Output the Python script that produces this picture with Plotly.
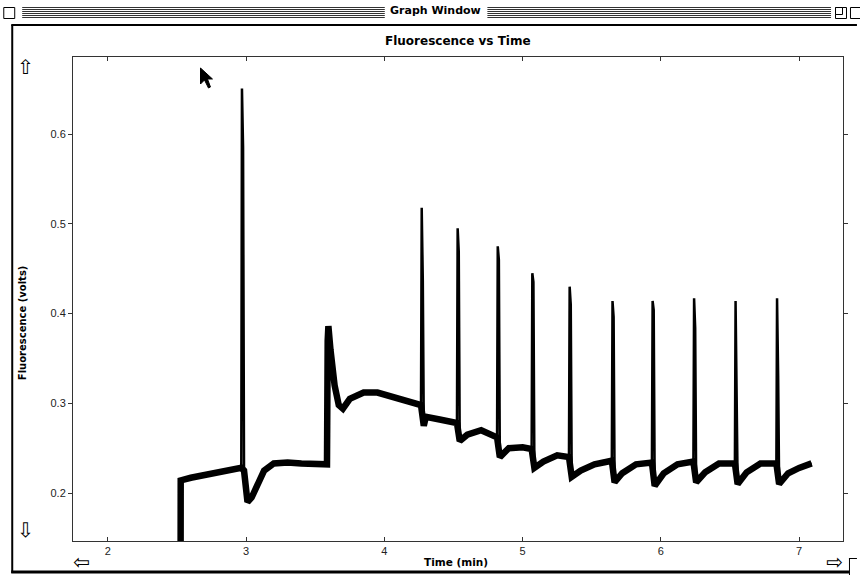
import plotly.graph_objects as go

# ---- data ----
# baseline (noisy band centre) of the fluorescence trace
base_t = [2.526, 2.527, 2.60, 2.70, 2.80, 2.90, 2.965, 2.985, 3.01, 3.04, 3.08, 3.13,
          3.20, 3.30, 3.40, 3.50, 3.585, 3.59, 3.595, 3.61, 3.64, 3.67, 3.70, 3.75,
          3.85, 3.95, 4.05, 4.15, 4.265, 4.285, 4.30, 4.40, 4.525, 4.545, 4.60, 4.70,
          4.815, 4.835, 4.90, 5.00, 5.065, 5.085, 5.15, 5.25, 5.335, 5.355, 5.42, 5.52,
          5.645, 5.665, 5.72, 5.82, 5.935, 5.955, 6.02, 6.12, 6.235, 6.255, 6.32, 6.42,
          6.535, 6.555, 6.62, 6.72, 6.835, 6.855, 6.92, 7.00, 7.09]
base_v = [0.100, 0.214, 0.217, 0.220, 0.223, 0.226, 0.228, 0.225, 0.190, 0.195, 0.210, 0.225,
          0.233, 0.234, 0.233, 0.232, 0.232, 0.370, 0.386, 0.360, 0.320, 0.298, 0.294, 0.305,
          0.312, 0.312, 0.307, 0.303, 0.298, 0.275, 0.285, 0.282, 0.278, 0.258, 0.265, 0.270,
          0.262, 0.240, 0.250, 0.251, 0.249, 0.228, 0.235, 0.242, 0.240, 0.218, 0.225, 0.232,
          0.236, 0.212, 0.222, 0.232, 0.234, 0.208, 0.222, 0.232, 0.235, 0.212, 0.223, 0.233,
          0.233, 0.210, 0.223, 0.233, 0.233, 0.210, 0.222, 0.228, 0.233]

# sharp injection spikes
spike_t = [2.970, 4.270, 4.530, 4.820, 5.070, 5.340, 5.650, 5.940, 6.240, 6.540, 6.840]
spike_peak = [0.651, 0.518, 0.495, 0.475, 0.445, 0.430, 0.414, 0.414, 0.417, 0.414, 0.417]
spike_fall_t = [2.978, 4.278, 4.538, 4.828, 5.078, 5.348, 5.658, 5.948, 6.248, 6.548, 6.848]
spike_fall_v = [0.585, 0.437, 0.469, 0.460, 0.435, 0.410, 0.396, 0.404, 0.384, 0.334, 0.331]

x_ticks = [2, 3, 4, 5, 6, 7]
y_ticks = [0.2, 0.3, 0.4, 0.5, 0.6]
x_range = [1.748, 7.317]
y_range = [0.1465, 0.686]

chart_title = "Fluorescence vs Time"
x_title = "Time (min)"
y_title = "Fluorescence (volts)"
window_title = "Graph Window"

# ---- build the full trace ----
pts = list(zip(base_t, base_v)) + list(zip(spike_t, spike_peak)) + list(zip(spike_fall_t, spike_fall_v))
pts.sort(key=lambda p: p[0])
full_t = [p[0] for p in pts]
full_v = [p[1] for p in pts]

W, H = 860, 575
L, R, T, B = 73, 14, 57, 34
PW, PH = W - L - R, H - T - B


def px(x):
    return (x - L) / PW


def py(y):
    return (H - B - y) / PH


fig = go.Figure()
fig.add_trace(go.Scatter(x=base_t, y=base_v, mode="lines",
                         line=dict(color="black", width=6.5), hoverinfo="skip"))
fig.add_trace(go.Scatter(x=full_t, y=full_v, mode="lines",
                         line=dict(color="black", width=2.5)))

shapes = []
# window frame
shapes.append(dict(type="line", xref="paper", yref="paper", x0=px(11), x1=px(860), y0=py(25), y1=py(25),
                   line=dict(color="black", width=2)))
shapes.append(dict(type="line", xref="paper", yref="paper", x0=px(12), x1=px(12), y0=py(25), y1=py(573),
                   line=dict(color="black", width=2)))
shapes.append(dict(type="line", xref="paper", yref="paper", x0=px(11), x1=px(852), y0=py(572), y1=py(572),
                   line=dict(color="black", width=3)))
# resize box corner
shapes.append(dict(type="line", xref="paper", yref="paper", x0=px(852.5), x1=px(852.5), y0=py(558), y1=py(575),
                   line=dict(color="black", width=1)))
shapes.append(dict(type="line", xref="paper", yref="paper", x0=px(852), x1=px(860), y0=py(558.5), y1=py(558.5),
                   line=dict(color="black", width=1)))
# title bar stripes
for yy in [7.5, 9.5, 11.5, 13.5, 15.5, 17.5]:
    for (a, b) in [(22, 386), (489, 834)]:
        shapes.append(dict(type="line", xref="paper", yref="paper", x0=px(a), x1=px(b), y0=py(yy), y1=py(yy),
                           line=dict(color="#333", width=1)))
# close box and zoom box
shapes.append(dict(type="rect", xref="paper", yref="paper", x0=px(3.5), x1=px(14.5), y0=py(7.5), y1=py(18.5),
                   line=dict(color="black", width=1), fillcolor="white"))
shapes.append(dict(type="rect", xref="paper", yref="paper", x0=px(838.5), x1=px(849.5), y0=py(7.5), y1=py(18.5),
                   line=dict(color="black", width=1), fillcolor="white"))
shapes.append(dict(type="rect", xref="paper", yref="paper", x0=px(838.5), x1=px(845.5), y0=py(7.5), y1=py(14.5),
                   line=dict(color="black", width=1), fillcolor="white"))
shapes.append(dict(type="rect", xref="paper", yref="paper", x0=px(853.5), x1=px(864), y0=py(7.5), y1=py(18.5),
                   line=dict(color="black", width=1), fillcolor="white"))
# mouse cursor
cur = [(201, 68), (201, 84), (205, 80), (209, 88), (211, 87), (208, 79), (213, 79)]
path = "M " + " L ".join(f"{px(a):.5f},{py(b):.5f}" for a, b in cur) + " Z"
shapes.append(dict(type="path", xref="paper", yref="paper", path=path,
                   fillcolor="black", line=dict(color="black", width=1)))


def label(text, x, y, size, angle=0, family="DejaVu Sans"):
    return dict(text=text, x=px(x), y=py(y), xref="paper", yref="paper",
                xanchor="center", yanchor="middle", showarrow=False, textangle=angle,
                font=dict(family=family, size=size, color="black"))


annotations = [
    label("<b>" + window_title + "</b>", 437, 11, 11),
    label("<b>" + chart_title + "</b>", 459, 41, 12),
    label("<b>" + x_title + "</b>", 457, 562, 10.5),
    label("<b>" + y_title + "</b>", 22, 323, 10, angle=-90),
    label("⇧", 25, 67, 20),
    label("⇩", 25, 530, 20),
    label("⇦", 82, 562, 20),
    label("⇨", 837, 562, 20),
]

fig.update_layout(
    width=W, height=H,
    margin=dict(l=L, r=R, t=T, b=B, pad=0),
    paper_bgcolor="white", plot_bgcolor="white",
    showlegend=False,
    shapes=shapes,
    annotations=annotations,
    xaxis=dict(range=x_range, tickvals=x_ticks, ticktext=[str(v) for v in x_ticks],
               ticks="inside", ticklen=4, tickcolor="#333", showline=True, linecolor="#333",
               linewidth=1, mirror="ticks", showgrid=False, zeroline=False,
               tickfont=dict(family="Liberation Sans", size=11, color="#222")),
    yaxis=dict(range=y_range, tickvals=y_ticks, ticktext=[f"{v:.1f}" for v in y_ticks],
               ticks="outside", ticklen=4, tickcolor="#333", showline=True, linecolor="#333",
               linewidth=1, mirror="ticks", showgrid=False, zeroline=False,
               tickfont=dict(family="Liberation Sans", size=11, color="#222")),
)

fig.write_html("out.html", config={"displayModeBar": False},
               post_script="document.body.style.margin='0px';")
